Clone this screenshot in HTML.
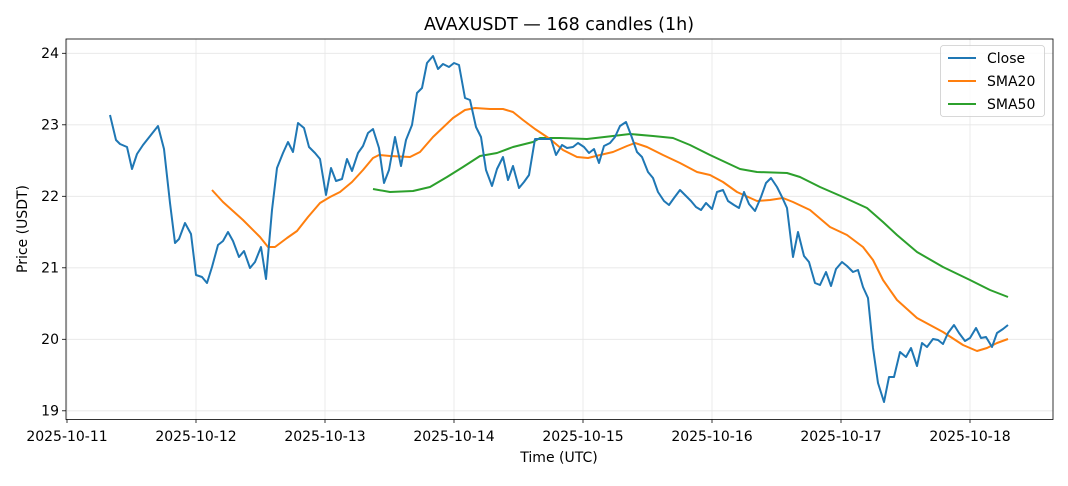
<!DOCTYPE html>
<html><head><meta charset="utf-8"><style>
body{margin:0;background:#fff;}
svg text{font-family:"DejaVu Sans","Liberation Sans",sans-serif;fill:#000;}
</style></head><body>
<svg width="1068" height="481" viewBox="0 0 1068 481" xmlns="http://www.w3.org/2000/svg">
<rect width="1068" height="481" fill="#fff"/>
<g stroke="#e6e6e6" stroke-width="0.8">
<line x1="67" y1="39" x2="67" y2="419"/><line x1="196" y1="39" x2="196" y2="419"/><line x1="325" y1="39" x2="325" y2="419"/><line x1="454" y1="39" x2="454" y2="419"/><line x1="583" y1="39" x2="583" y2="419"/><line x1="712" y1="39" x2="712" y2="419"/><line x1="841" y1="39" x2="841" y2="419"/><line x1="970" y1="39" x2="970" y2="419"/>
<line x1="66" y1="53.3" x2="1053" y2="53.3"/><line x1="66" y1="124.8" x2="1053" y2="124.8"/><line x1="66" y1="196.3" x2="1053" y2="196.3"/><line x1="66" y1="267.8" x2="1053" y2="267.8"/><line x1="66" y1="339.3" x2="1053" y2="339.3"/><line x1="66" y1="410.8" x2="1053" y2="410.8"/>
</g>
<g fill="none" stroke-width="2" stroke-linejoin="round">
<polyline stroke="#2ca02c" points="373,189 390,192 413,191 430,187 447,177 463,167 480,156 497,153 513,147 533,142 540,138 560,138 587,139 613,136 630,134 653,136 673,138 690,145 710,155 740,169 757,172 787,173 800,177 820,187 843,197 867,208 883,222 897,235 917,252 943,267 970,280 990,290 1008,297"/>
<polyline stroke="#ff7f0e" points="212,190 223,202 243,220 260,237 268,247 275,247 287,238 297,231 308,217 320,203 330,197 340,192 352,182 363,170 373,158 379,155 390,156 410,157 420,152 433,137 453,118 465,110 475,108 490,109 503,109 513,112 523,120 535,129 550,139 563,150 577,157 588,158 600,155 613,152 627,146 635,143 647,147 663,155 680,163 697,172 710,175 723,182 737,192 757,201 770,200 783,198 793,202 810,210 830,227 847,235 863,247 873,260 883,280 897,300 917,318 943,332 963,345 977,351 987,348 997,343 1008,339"/>
<polyline stroke="#1f77b4" points="110,115 116,140 120,144 127,147 132,169 137,154 143,145 158,126 164,149 170,203 175,243 179,239 185,223 191,234 196,275 202,277 207,283 212,267 218,245 223,241 228,232 233,241 239,257 244,251 250,268 255,262 261,247 266,279 272,210 277,168 283,153 288,142 293,152 298,123 304,128 309,147 315,153 320,159 326,195 331,168 336,181 342,179 347,159 352,171 358,153 363,146 368,133 373,129 379,148 384,183 389,170 395,137 401,166 406,140 412,125 417,93 422,88 427,63 433,56 438,69 443,64 449,67 454,63 459,65 465,98 470,100 476,127 481,137 486,170 492,186 497,169 503,157 508,180 513,166 519,188 524,182 529,175 535,139 540,139 546,139 551,139 556,155 562,145 567,148 573,147 578,143 584,147 589,153 594,149 599,163 604,146 610,143 615,137 620,126 626,122 631,135 637,152 642,157 648,172 653,178 658,192 664,201 669,205 674,198 680,190 686,196 691,201 696,207 701,210 706,203 712,209 717,192 723,190 728,201 734,205 739,208 744,192 749,204 755,211 761,197 766,183 771,178 777,187 782,197 787,208 793,257 798,232 804,256 809,262 815,283 820,285 826,272 831,286 836,269 842,262 847,266 853,272 858,270 863,287 868,298 873,348 878,383 884,402 889,377 894,377 900,352 906,357 911,348 917,366 922,343 927,347 933,339 938,340 943,344 948,333 954,325 959,333 965,341 970,338 976,328 981,338 986,337 992,347 997,333 1003,329 1008,325"/>
</g>
<rect x="66" y="39" width="987" height="380.5" fill="none" stroke="#000" stroke-width="0.8"/>
<g stroke="#000" stroke-width="0.8">
<line x1="67" y1="419.5" x2="67" y2="423"/><line x1="196" y1="419.5" x2="196" y2="423"/><line x1="325" y1="419.5" x2="325" y2="423"/><line x1="454" y1="419.5" x2="454" y2="423"/><line x1="583" y1="419.5" x2="583" y2="423"/><line x1="712" y1="419.5" x2="712" y2="423"/><line x1="841" y1="419.5" x2="841" y2="423"/><line x1="970" y1="419.5" x2="970" y2="423"/>
<line x1="62" y1="53.3" x2="66" y2="53.3"/><line x1="62" y1="124.8" x2="66" y2="124.8"/><line x1="62" y1="196.3" x2="66" y2="196.3"/><line x1="62" y1="267.8" x2="66" y2="267.8"/><line x1="62" y1="339.3" x2="66" y2="339.3"/><line x1="62" y1="410.8" x2="66" y2="410.8"/>
</g>
<g font-size="14" text-anchor="middle">
<text x="67" y="441">2025-10-11</text><text x="196" y="441">2025-10-12</text><text x="325" y="441">2025-10-13</text><text x="454" y="441">2025-10-14</text><text x="583" y="441">2025-10-15</text><text x="712" y="441">2025-10-16</text><text x="841" y="441">2025-10-17</text><text x="970" y="441">2025-10-18</text>
</g>
<g font-size="14" text-anchor="end">
<text x="59" y="58">24</text><text x="59" y="129.5">23</text><text x="59" y="201">22</text><text x="59" y="272.5">21</text><text x="59" y="344">20</text><text x="59" y="415.5">19</text>
</g>
<text x="559" y="462" font-size="14" text-anchor="middle">Time (UTC)</text>
<text transform="translate(27,229) rotate(-90)" font-size="14" text-anchor="middle">Price (USDT)</text>
<text x="559" y="30" font-size="17.5" text-anchor="middle">AVAXUSDT — 168 candles (1h)</text>
<rect x="940.5" y="45.5" width="104" height="71" rx="3" fill="#fff" fill-opacity="0.8" stroke="#ccc" stroke-width="0.8"/>
<g stroke-width="2">
<line x1="948" y1="58" x2="976" y2="58" stroke="#1f77b4"/>
<line x1="948" y1="81" x2="976" y2="81" stroke="#ff7f0e"/>
<line x1="948" y1="104" x2="976" y2="104" stroke="#2ca02c"/>
</g>
<g font-size="14">
<text x="987" y="63">Close</text><text x="987" y="86">SMA20</text><text x="987" y="109">SMA50</text>
</g>
</svg>
</body></html>
